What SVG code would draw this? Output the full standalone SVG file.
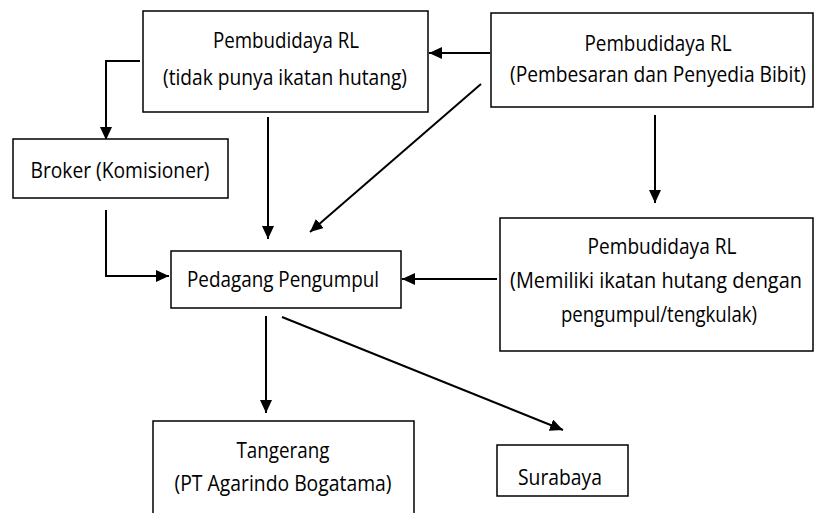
<svg xmlns="http://www.w3.org/2000/svg" width="815" height="513" viewBox="0 0 815 513">
  <style>
    .box { fill: #ffffff; stroke: #000000; stroke-width: 1.5; }
    .lbl { font-family: "Open Sans", "Noto Sans", sans-serif; font-size: 21px; fill: #000000; text-anchor: middle; }
    .edge { fill: none; stroke: #000000; stroke-width: 2; }
    .arr { marker-end: url(#head); }
  </style>
  <defs>
    <marker id="head" markerUnits="userSpaceOnUse" markerWidth="14" markerHeight="12" refX="13" refY="6" orient="auto">
      <path d="M0,0 L13,6 L0,12 Z" fill="#000000"/>
    </marker>
  </defs>

  <rect width="815" height="513" fill="#ffffff"/>

  <!-- connectors -->
  <g id="connectors">
    <polyline class="edge arr" points="140,61 106,61 106,140"/>
    <line class="edge arr" x1="268" y1="117" x2="268" y2="239"/>
    <line class="edge arr" x1="481" y1="84" x2="310" y2="232"/>
    <line class="edge arr" x1="490" y1="53" x2="429" y2="53"/>
    <line class="edge arr" x1="655" y1="115" x2="655" y2="203"/>
    <polyline class="edge arr" points="106,210 106,276 169,276"/>
    <line class="edge arr" x1="497" y1="279" x2="402" y2="279"/>
    <line class="edge arr" x1="266" y1="316" x2="266" y2="413"/>
    <line class="edge arr" x1="282" y1="317" x2="563" y2="430"/>
  </g>

  <!-- nodes -->
  <g id="node-tidak-hutang">
    <rect class="box" x="143" y="11" width="285" height="101"/>
    <text class="lbl" x="286" y="48" textLength="146" lengthAdjust="spacingAndGlyphs">Pembudidaya RL</text>
    <text class="lbl" x="285" y="85" textLength="244" lengthAdjust="spacingAndGlyphs">(tidak punya ikatan hutang)</text>
  </g>

  <g id="node-pembesaran">
    <rect class="box" x="491" y="13" width="322" height="94"/>
    <text class="lbl" x="658" y="51" textLength="147" lengthAdjust="spacingAndGlyphs">Pembudidaya RL</text>
    <text class="lbl" x="658" y="82" textLength="296" lengthAdjust="spacingAndGlyphs">(Pembesaran dan Penyedia Bibit)</text>
  </g>

  <g id="node-broker">
    <rect class="box" x="13" y="139" width="215" height="59"/>
    <text class="lbl" x="120" y="178" textLength="179" lengthAdjust="spacingAndGlyphs">Broker (Komisioner)</text>
  </g>

  <g id="node-pedagang">
    <rect class="box" x="171" y="251" width="230" height="57"/>
    <text class="lbl" x="283" y="287" textLength="192" lengthAdjust="spacingAndGlyphs">Pedagang Pengumpul</text>
  </g>

  <g id="node-memiliki-hutang">
    <rect class="box" x="500" y="218" width="313" height="133"/>
    <text class="lbl" x="662" y="254" textLength="149" lengthAdjust="spacingAndGlyphs">Pembudidaya RL</text>
    <text class="lbl" x="656" y="288" textLength="292" lengthAdjust="spacingAndGlyphs">(Memiliki ikatan hutang dengan</text>
    <text class="lbl" x="659" y="322" textLength="196" lengthAdjust="spacingAndGlyphs">pengumpul/tengkulak)</text>
  </g>

  <g id="node-tangerang">
    <rect class="box" x="153" y="421" width="261" height="100"/>
    <text class="lbl" x="283" y="458" textLength="93" lengthAdjust="spacingAndGlyphs">Tangerang</text>
    <text class="lbl" x="283" y="491" textLength="217" lengthAdjust="spacingAndGlyphs">(PT Agarindo Bogatama)</text>
  </g>

  <g id="node-surabaya">
    <rect class="box" x="497" y="445" width="131" height="51"/>
    <text class="lbl" x="560" y="485" textLength="84" lengthAdjust="spacingAndGlyphs">Surabaya</text>
  </g>
</svg>
